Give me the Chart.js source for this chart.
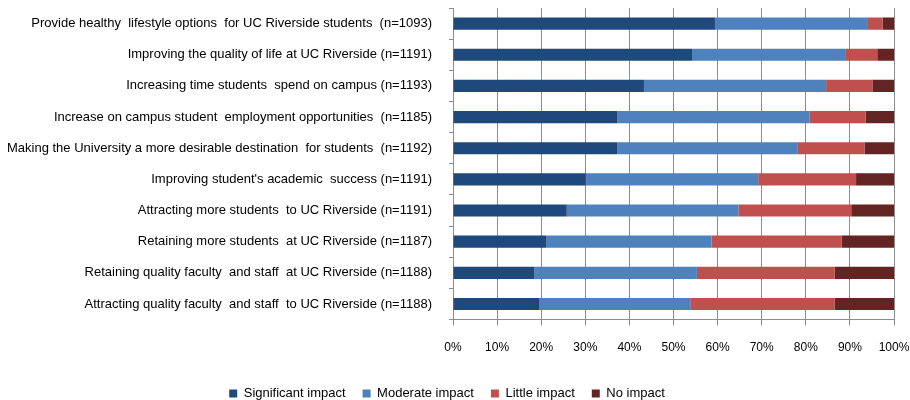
<!DOCTYPE html>
<html>
<head>
<meta charset="utf-8">
<script src="https://cdn.jsdelivr.net/npm/chart.js@4/dist/chart.umd.min.js"></script>
<style>
  html, body { margin: 0; padding: 0; background: #fff; }
  #wrap { width: 910px; height: 400px; position: relative; }
</style>
</head>
<body>
<div id="wrap"><canvas id="chart"></canvas></div>
<script>
const categories = [
  "Provide healthy  lifestyle options  for UC Riverside students  (n=1093)",
  "Improving the quality of life at UC Riverside (n=1191)",
  "Increasing time students  spend on campus (n=1193)",
  "Increase on campus student  employment opportunities  (n=1185)",
  "Making the University a more desirable destination  for students  (n=1192)",
  "Improving student's academic  success (n=1191)",
  "Attracting more students  to UC Riverside (n=1191)",
  "Retaining more students  at UC Riverside (n=1187)",
  "Retaining quality faculty  and staff  at UC Riverside (n=1188)",
  "Attracting quality faculty  and staff  to UC Riverside (n=1188)"
];
const significant = [59.4, 54.2, 43.3, 37.2, 37.2, 30.1, 25.8, 21.1, 18.4, 19.5];
const moderate    = [34.5, 34.9, 41.3, 43.6, 41.0, 39.1, 38.9, 37.5, 36.9, 34.3];
const little      = [3.5, 7.1, 10.5, 12.8, 15.1, 22.2, 25.6, 29.5, 31.2, 32.7];
const noImpact    = [2.6, 3.8, 4.9, 6.4, 6.7, 8.6, 9.7, 11.9, 13.5, 13.5];
const xTicks = [0, 10, 20, 30, 40, 50, 60, 70, 80, 90, 100];

const font = { family: "'Liberation Sans', Arial, sans-serif", size: 13 };
const tickFont = { family: "'Liberation Sans', Arial, sans-serif", size: 12 };
const ds = (label, data, color) => ({
  label, data, backgroundColor: color, borderWidth: 0,
  barPercentage: 0.78, categoryPercentage: 0.5
});

new Chart(document.getElementById("chart"), {
  type: "bar",
  data: {
    labels: categories,
    datasets: [
      ds("Significant impact", significant, "#1F497D"),
      ds("Moderate impact", moderate, "#4F81BD"),
      ds("Little impact", little, "#C0504D"),
      ds("No impact", noImpact, "#632523")
    ]
  },
  options: {
    indexAxis: "y",
    responsive: true,
    maintainAspectRatio: false,
    animation: false,
    layout: { padding: { top: 8, right: 16, bottom: -10, left: 0 } },
    scales: {
      x: {
        stacked: true,
        min: 0, max: 100,
        afterBuildTicks: (s) => { s.ticks = xTicks.map(v => ({ value: v })); },
        afterFit: (s) => { s.paddingLeft = 0; s.paddingRight = 0; },
        ticks: { callback: v => v + "%", color: "#000", font: tickFont, padding: 15, maxRotation: 0 },
        grid: { color: "#8c8c8c", lineWidth: 1, tickLength: 6 },
        border: { color: "#8c8c8c" }
      },
      y: {
        stacked: true,
        afterFit: (s) => { s.width = 453; s.paddingTop = 0; s.paddingBottom = 0; },
        ticks: { color: "#000", font, padding: 17 },
        grid: { drawOnChartArea: false, color: "#8c8c8c", tickLength: 4 },
        border: { color: "#8c8c8c" }
      }
    },
    plugins: {
      legend: {
        position: "bottom",
        labels: { color: "#000", font, boxWidth: 8, boxHeight: 8, padding: 17 }
      },
      tooltip: { enabled: false }
    }
  }
});
</script>
</body>
</html>
